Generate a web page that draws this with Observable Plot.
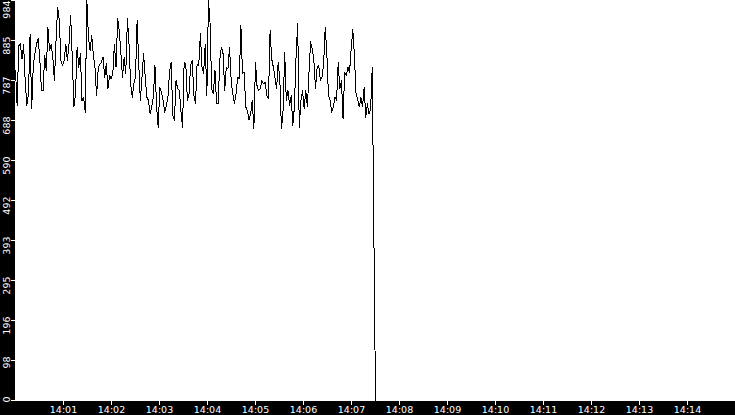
<!DOCTYPE html>
<html><head><meta charset="utf-8">
<style>html,body{margin:0;padding:0;background:#fff;} svg{display:block}</style>
<script src="https://cdn.jsdelivr.net/npm/d3@7"></script>
<script src="https://cdn.jsdelivr.net/npm/@observablehq/plot@0.6"></script>
</head><body><div id="chart"></div>
<script>
const values = [
812,726,873,877,840,877,783,726,754,902,
718,828,853,877,890,840,763,763,849,812,
918,861,877,845,787,886,968,935,836,824,
836,877,836,877,947,845,722,754,869,820,
853,738,746,709,984,894,861,898,849,820,
750,816,828,832,845,795,828,767,800,791,
804,877,820,939,910,853,795,845,804,939,
877,779,746,779,795,935,828,738,795,853,
795,746,738,705,722,746,824,722,672,771,
759,738,709,726,746,808,832,701,689,787,
767,763,713,672,832,828,738,754,824,
836,750,730,828,824,902,820,804,877,750,
984,927,767,754,812,730,730,840,869,853,
763,820,816,869,787,754,730,754,795,791,
923,804,808,722,713,689,705,738,668,832,
771,763,767,787,779,783,750,742,910,840,
820,795,767,832,791,668,713,857,738,763,
726,750,677,722,845,927,672,738,763,718,
763,722,808,882,865,836,767,820,824,787,
795,828,918,853,750,738,709,722,746,738,
832,767,787,693,808,799,820,808,865,914,
849,754,742,722,746,722,771,697,730,705,
718,820,
410,0
];
const day = "2024-01-01";
const startTime = "14:00:00";
const endTime = "14:07:30";
const xDomain = ["14:00", "14:15"];
const xTickLabels = ["14:01","14:02","14:03","14:04","14:05","14:06","14:07","14:08","14:09","14:10","14:11","14:12","14:13","14:14"];
const yDomain = [0, 984];
const yTickValues = [0, 98.4, 196.8, 295.2, 393.6, 492, 590.4, 688.8, 787.2, 885.6, 984];
const yTickLabels = ["0","98","196","295","393","492","590","688","787","885","984"];

const t0 = new Date(`${day}T${startTime}Z`), t1 = new Date(`${day}T${endTime}Z`);
const step = (t1 - t0) / (values.length - 1);
const data = values.map((v, i) => ({time: new Date(+t0 + i * step), value: v}));
const toDate = s => new Date(`${day}T${s}:00Z`);

const chart = Plot.plot({
  width: 735, height: 415,
  marginLeft: 15, marginRight: 0, marginTop: 0, marginBottom: 15,
  style: {background: "black", fontFamily: "DejaVu Sans", fontSize: "9.5px"},
  x: {type: "utc", domain: xDomain.map(toDate), axis: null},
  y: {domain: yDomain, axis: null},
  marks: [
    Plot.frame({fill: "white", stroke: "white"}),
    Plot.axisX({ticks: xTickLabels.map(toDate), tickFormat: (d, i) => xTickLabels[i], tickSize: 5, tickPadding: 1, color: "white", label: null}),
    Plot.axisY({ticks: yTickValues, tickFormat: () => "", tickSize: 4, color: "white", label: null}),
    Plot.text(yTickValues.slice(0, -1), {y: d => d, text: (d, i) => yTickLabels[i], frameAnchor: "left", rotate: -90, textAnchor: "end", lineAnchor: "bottom", dx: -6, dy: -4, fill: "white"}),
    Plot.text([yTickLabels[yTickLabels.length - 1]], {text: d => d, frameAnchor: "top-left", rotate: -90, textAnchor: "end", lineAnchor: "bottom", dx: -6, fill: "white"}),
    Plot.line(data, {x: "time", y: "value", stroke: "black", strokeWidth: 1, shapeRendering: "crispEdges"})
  ]
});
document.getElementById("chart").appendChild(chart);
</script>
</body></html>
